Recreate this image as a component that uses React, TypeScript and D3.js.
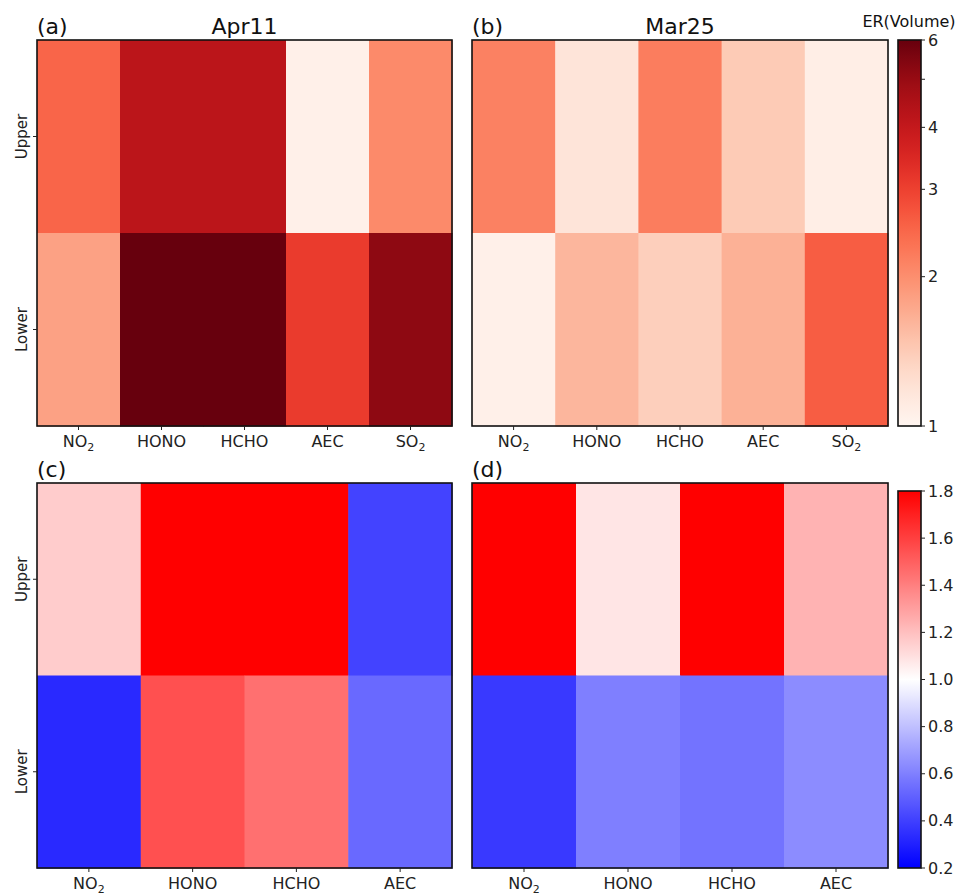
import React from 'react';
import * as d3 from 'd3';

// ─── data ──────────────────────────────────────────────────────────────
const species5 = ['NO2', 'HONO', 'HCHO', 'AEC', 'SO2'];
const species4 = ['NO2', 'HONO', 'HCHO', 'AEC'];
const rows = ['Upper', 'Lower'];

// ER(Volume), panels (a) and (b)
const apr11Upper = [2.5, 4.2, 4.2, 1.05, 2.05];
const apr11Lower = [1.8, 6.0, 6.0, 3.1, 5.2];
const mar25Upper = [2.15, 1.18, 2.2, 1.42, 1.08];
const mar25Lower = [1.05, 1.6, 1.38, 1.65, 2.6];

// ratio, panels (c) and (d)
const ratioAprUpper = [1.16, 1.9, 1.9, 0.41];
const ratioAprLower = [0.33, 1.55, 1.45, 0.53];
const ratioMarUpper = [1.9, 1.08, 1.9, 1.24];
const ratioMarLower = [0.38, 0.6, 0.56, 0.64];

const erTicks = [1, 2, 3, 4, 5, 6];
const erTickLabels = ['1', '2', '3', '4', '', '6'];
const ratioTicks = [0.2, 0.4, 0.6, 0.8, 1.0, 1.2, 1.4, 1.6, 1.8];

const FONT = 'DejaVu Sans, sans-serif';

// ─── colour ────────────────────────────────────────────────────────────
const erNorm = d3.scaleLog().domain([1, 6]).range([0, 1]).clamp(true);
const erColor = (v: number) => d3.interpolateReds(erNorm(v));
const bwr = d3
  .scaleLinear<string>()
  .domain([0.2, 1.0, 1.8])
  .range(['#0000ff', '#ffffff', '#ff0000'])
  .interpolate(d3.interpolateRgb)
  .clamp(true);

const Label: React.FC<{ name: string; x: number; y: number }> = ({ name, x, y }) => {
  const m = name.match(/^([A-Z]+)(\d)$/);
  return (
    <text x={x} y={y} textAnchor="middle" fontSize={16} fontFamily={FONT} fill="#222">
      {m ? (
        <>
          {m[1]}
          <tspan fontSize={11} dy={4}>{m[2]}</tspan>
        </>
      ) : (
        name
      )}
    </text>
  );
};

interface HeatProps {
  x0: number;
  x1: number;
  y0: number;
  y1: number;
  cols: string[];
  upper: number[];
  lower: number[];
  color: (v: number) => string;
  tag: string;
  title?: string;
  showY?: boolean;
}

const Heat: React.FC<HeatProps> = ({ x0, x1, y0, y1, cols, upper, lower, color, tag, title, showY }) => {
  const x = d3.scaleBand<string>().domain(cols).range([x0, x1]);
  const y = d3.scaleBand<string>().domain(rows).range([y0, y1]);
  const vals = [upper, lower];
  return (
    <g>
      {rows.map((r, ri) =>
        cols.map((c, ci) => (
          <rect
            key={r + c}
            x={x(c)!}
            y={y(r)!}
            width={x.bandwidth() + 0.6}
            height={y.bandwidth() + 0.6}
            fill={color(vals[ri][ci])}
          />
        ))
      )}
      <rect x={x0} y={y0} width={x1 - x0} height={y1 - y0} fill="none" stroke="#111" strokeWidth={1.6} />
      {cols.map(c => {
        const cx = x(c)! + x.bandwidth() / 2;
        return (
          <g key={c}>
            <line x1={cx} x2={cx} y1={y1} y2={y1 + 4} stroke="#222" />
            <Label name={c} x={cx} y={y1 + 21} />
          </g>
        );
      })}
      {showY &&
        rows.map(r => {
          const cy = y(r)! + y.bandwidth() / 2;
          return (
            <g key={r}>
              <line x1={x0 - 4} x2={x0} y1={cy} y2={cy} stroke="#222" />
              <text
                transform={`translate(${x0 - 10},${cy}) rotate(-90)`}
                textAnchor="middle"
                fontSize={15}
                fontFamily={FONT}
                fill="#222"
              >
                {r}
              </text>
            </g>
          );
        })}
      <text x={x0} y={y0 - 6} fontSize={22} fontFamily={FONT} fill="#111">
        {tag}
      </text>
      {title && (
        <text x={(x0 + x1) / 2} y={y0 - 6} textAnchor="middle" fontSize={22} fontFamily={FONT} fill="#111">
          {title}
        </text>
      )}
    </g>
  );
};

interface CbarProps {
  id: string;
  x0: number;
  y0: number;
  y1: number;
  scale: d3.ScaleContinuousNumeric<number, number>;
  ticks: number[];
  labels: string[];
  color: (v: number) => string;
}

const Colorbar: React.FC<CbarProps> = ({ id, x0, y0, y1, scale, ticks, labels, color }) => {
  const w = 23;
  const [d0, d1] = scale.domain();
  const stops = d3.range(0, 51).map(i => {
    const py = y1 - ((y1 - y0) * i) / 50;
    return { off: i / 50, c: color(scale.invert(py)) };
  });
  return (
    <g>
      <defs>
        <linearGradient id={id} x1="0" y1="1" x2="0" y2="0">
          {stops.map(s => (
            <stop key={s.off} offset={s.off} stopColor={s.c} />
          ))}
        </linearGradient>
      </defs>
      <rect x={x0} y={y0} width={w} height={y1 - y0} fill={`url(#${id})`} stroke="#111" strokeWidth={1.6} />
      {ticks.map((t, i) => {
        const ty = scale(t);
        if (t < d0 - 1e-9 || t > d1 + 1e-9) return null;
        return (
          <g key={t}>
            <line x1={x0 + w} x2={x0 + w + 4} y1={ty} y2={ty} stroke="#222" />
            {labels[i] && (
              <text x={x0 + w + 7} y={ty} dy="0.35em" fontSize={16} fontFamily={FONT} fill="#222">
                {labels[i]}
              </text>
            )}
          </g>
        );
      })}
    </g>
  );
};

export default function App() {
  const L = [37, 452];
  const R = [472, 888];
  const T = [40, 426];
  const B = [483, 868];
  const cbX = 898;
  const erScale = d3.scaleLog().domain([1, 6]).range([T[1], T[0]]);
  const ratioScale = d3.scaleLinear().domain([0.2, 1.8]).range([B[1], B[0] + 8]);
  return (
    <svg width={961} height={895} style={{ display: 'block', position: 'absolute', left: 0, top: 0 }}>
      <rect width={961} height={895} fill="#fff" />
      <Heat x0={L[0]} x1={L[1]} y0={T[0]} y1={T[1]} cols={species5} upper={apr11Upper} lower={apr11Lower}
        color={erColor} tag="(a)" title="Apr11" showY />
      <Heat x0={R[0]} x1={R[1]} y0={T[0]} y1={T[1]} cols={species5} upper={mar25Upper} lower={mar25Lower}
        color={erColor} tag="(b)" title="Mar25" />
      <Heat x0={L[0]} x1={L[1]} y0={B[0]} y1={B[1]} cols={species4} upper={ratioAprUpper} lower={ratioAprLower}
        color={bwr} tag="(c)" showY />
      <Heat x0={R[0]} x1={R[1]} y0={B[0]} y1={B[1]} cols={species4} upper={ratioMarUpper} lower={ratioMarLower}
        color={bwr} tag="(d)" />
      <Colorbar id="erGrad" x0={cbX} y0={T[0]} y1={T[1]} scale={erScale} ticks={erTicks}
        labels={erTickLabels} color={erColor} />
      <text x={cbX + 11} y={27} textAnchor="middle" fontSize={16} fontFamily={FONT} fill="#111">
        ER(Volume)
      </text>
      <Colorbar id="ratioGrad" x0={cbX} y0={B[0] + 8} y1={B[1]} scale={ratioScale}
        ticks={ratioTicks} labels={ratioTicks.map(t => t.toFixed(1))} color={bwr} />
    </svg>
  );
}
